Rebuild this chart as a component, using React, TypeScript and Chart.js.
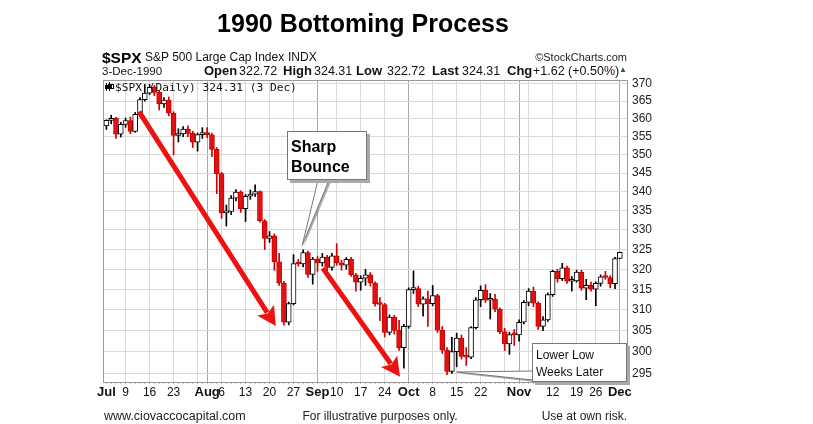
import React, { useEffect, useRef } from "react";
import { Chart, registerables } from "chart.js";
Chart.register(...registerables);

// ---- Data (S&P 500 daily, Jul 2 – Dec 3, 1990) ----
const dates = [
  "1990-07-02","1990-07-03","1990-07-05","1990-07-06","1990-07-09","1990-07-10","1990-07-11","1990-07-12","1990-07-13","1990-07-16","1990-07-17","1990-07-18","1990-07-19","1990-07-20","1990-07-23","1990-07-24","1990-07-25","1990-07-26","1990-07-27","1990-07-30","1990-07-31",
  "1990-08-01","1990-08-02","1990-08-03","1990-08-06","1990-08-07","1990-08-08","1990-08-09","1990-08-10","1990-08-13","1990-08-14","1990-08-15","1990-08-16","1990-08-17","1990-08-20","1990-08-21","1990-08-22","1990-08-23","1990-08-24","1990-08-27","1990-08-28","1990-08-29","1990-08-30","1990-08-31",
  "1990-09-04","1990-09-05","1990-09-06","1990-09-07","1990-09-10","1990-09-11","1990-09-12","1990-09-13","1990-09-14","1990-09-17","1990-09-18","1990-09-19","1990-09-20","1990-09-21","1990-09-24","1990-09-25","1990-09-26","1990-09-27","1990-09-28",
  "1990-10-01","1990-10-02","1990-10-03","1990-10-04","1990-10-05","1990-10-08","1990-10-09","1990-10-10","1990-10-11","1990-10-12","1990-10-15","1990-10-16","1990-10-17","1990-10-18","1990-10-19","1990-10-22","1990-10-23","1990-10-24","1990-10-25","1990-10-26","1990-10-29","1990-10-30","1990-10-31",
  "1990-11-01","1990-11-02","1990-11-05","1990-11-06","1990-11-07","1990-11-08","1990-11-09","1990-11-12","1990-11-13","1990-11-14","1990-11-15","1990-11-16","1990-11-19","1990-11-20","1990-11-21","1990-11-23","1990-11-26","1990-11-27","1990-11-28","1990-11-29","1990-11-30",
  "1990-12-03",
];

const opens = [
  358.02, 359.54, 360.16, 355.68, 358.42, 359.52, 356.49, 361.23, 365.45, 367.31, 368.95, 367.52, 364.22, 365.32, 361.61, 355.31, 355.79, 357.09, 355.91, 353.44, 355.55,
  356.15, 355.52, 351.48, 344.86, 334.43, 334.83, 338.35, 339.94, 335.52, 338.84, 339.39, 340.06, 332.39, 327.83, 328.51, 321.86, 316.55, 307.06, 311.51, 321.44, 321.34, 324.19, 318.71,
  322.56, 321.63, 323.09, 320.46, 323.40, 321.63, 321.04, 322.54, 318.65, 316.83, 317.77, 318.60, 316.60, 311.48, 311.32, 304.59, 308.26, 305.06, 300.97,
  306.05, 314.94, 315.21, 311.40, 312.69, 311.50, 313.48, 305.10, 300.39, 295.46, 300.03, 303.23, 298.92, 298.76, 305.74, 312.48, 314.76, 312.36, 312.60, 310.17, 304.71, 301.88, 304.06,
  304.00, 307.02, 311.85, 314.59, 311.62, 306.01, 307.61, 313.74, 319.48, 317.67, 320.40, 317.02, 317.12, 319.34, 315.31, 316.03, 315.10, 316.51, 318.10, 317.95, 316.42,
  322.72,
];

const highs = [
  359.7, 361.0, 360.4, 359.0, 360.2, 360.5, 361.8, 366.0, 369.8, 369.8, 369.5, 368.0, 366.0, 366.2, 362.0, 357.2, 357.8, 358.0, 356.5, 356.0, 357.5,
  357.5, 356.0, 352.0, 345.2, 336.5, 339.0, 340.6, 340.3, 339.3, 340.5, 341.9, 340.3, 332.7, 329.6, 329.0, 324.0, 317.0, 311.9, 323.7, 322.5, 324.9, 324.6, 323.0,
  323.2, 324.0, 323.5, 324.0, 326.5, 322.3, 323.0, 323.0, 319.0, 318.4, 320.0, 319.2, 316.9, 313.0, 311.6, 308.8, 308.7, 307.5, 306.5,
  315.4, 319.6, 315.8, 313.2, 314.6, 316.0, 313.8, 306.0, 301.0, 303.4, 304.4, 304.0, 301.0, 306.0, 313.0, 315.9, 316.2, 314.0, 313.8, 310.5, 305.6, 304.6, 305.3,
  307.6, 312.3, 315.2, 315.6, 312.0, 308.4, 314.2, 319.8, 320.0, 321.5, 320.8, 318.2, 319.8, 319.8, 317.5, 316.8, 316.9, 318.6, 319.5, 318.4, 323.0,
  324.31,
];

const lows = [
  357.0, 358.6, 354.5, 354.9, 357.6, 355.8, 356.2, 360.8, 365.0, 366.9, 366.6, 362.5, 363.2, 360.8, 350.0, 353.5, 355.0, 355.0, 352.0, 351.0, 354.5,
  354.8, 349.5, 339.5, 333.0, 331.0, 334.0, 337.6, 334.6, 332.2, 338.0, 338.8, 332.0, 325.0, 326.8, 319.8, 316.0, 306.3, 306.4, 311.2, 320.8, 320.6, 318.0, 316.3,
  319.5, 320.8, 319.6, 319.8, 321.0, 319.8, 320.0, 318.2, 314.6, 314.8, 316.0, 315.8, 310.9, 307.4, 303.5, 304.0, 304.2, 300.3, 296.2,
  305.6, 314.0, 310.8, 308.5, 306.0, 311.0, 304.6, 299.6, 294.7, 295.0, 296.5, 298.3, 296.8, 298.4, 305.4, 310.8, 311.8, 307.8, 309.6, 304.3, 300.3, 299.4, 301.5,
  302.5, 306.6, 311.0, 310.8, 305.3, 305.0, 307.2, 313.3, 316.8, 317.2, 316.5, 314.6, 316.8, 314.8, 312.5, 314.6, 311.0, 315.8, 317.5, 315.4, 315.2,
  322.72,
];

const closes = [
  359.54, 360.16, 355.68, 358.42, 359.52, 356.49, 361.23, 365.45, 367.31, 368.95, 367.52, 364.22, 365.32, 361.61, 355.31, 355.79, 357.09, 355.91, 353.44, 355.55, 356.15,
  355.52, 351.48, 344.86, 334.43, 334.83, 338.35, 339.94, 335.52, 338.84, 339.39, 340.06, 332.39, 327.83, 328.51, 321.86, 316.55, 307.06, 311.51, 321.44, 321.34, 324.19, 318.71, 322.56,
  321.63, 323.09, 320.46, 323.40, 321.63, 321.04, 322.54, 318.65, 316.83, 317.77, 318.60, 316.60, 311.48, 311.32, 304.59, 308.26, 305.06, 300.97, 306.05,
  314.94, 315.21, 311.40, 312.69, 311.50, 313.48, 305.10, 300.39, 295.46, 300.03, 303.23, 298.92, 298.76, 305.74, 312.48, 314.76, 312.36, 312.60, 310.17, 304.71, 301.88, 304.06, 304.00,
  307.02, 311.85, 314.59, 311.62, 306.01, 307.61, 313.74, 319.48, 317.67, 320.40, 317.02, 317.12, 319.34, 315.31, 316.03, 315.10, 316.51, 318.10, 317.95, 316.42, 322.69,
  324.31,
];

const tickDates = [
  "1990-07-02","1990-07-09","1990-07-16","1990-07-23","1990-08-01","1990-08-06","1990-08-13","1990-08-20","1990-08-27",
  "1990-09-04","1990-09-10","1990-09-17","1990-09-24","1990-10-01","1990-10-08","1990-10-15","1990-10-22",
  "1990-11-01","1990-11-12","1990-11-19","1990-11-26","1990-12-03",
];
const tickTexts = ["Jul","9","16","23","Aug","6","13","20","27","Sep","10","17","24","Oct","8","15","22","Nov","12","19","26","Dec"];
const monthTexts = ["Jul","Aug","Sep","Oct","Nov","Dec"];
const yTicks = [295, 300, 305, 310, 315, 320, 325, 330, 335, 340, 345, 350, 355, 360, 365, 370];
const yMin = 293.0;
const yMax = 370.8;

// annotation anchors in data coordinates: [category index, price]
const arrow1 = { from: [6.8, 362.0], to: [35.3, 306.1] };
const arrow2 = { from: [45.1, 320.3], to: [61.2, 294.2] };
const bounceTip = [40.8, 326.0];
const lowerLowTip = [73.0, 295.3];

const FONT = "'Liberation Sans', Arial, Helvetica, sans-serif";

function drawArrow(ctx: CanvasRenderingContext2D, x1: number, y1: number, x2: number, y2: number) {
  const dx = x2 - x1, dy = y2 - y1;
  const len = Math.hypot(dx, dy);
  const ux = dx / len, uy = dy / len;
  const headLen = 19, headHalf = 10;
  const bx = x2 - ux * headLen, by = y2 - uy * headLen;
  ctx.save();
  ctx.strokeStyle = "#ee1111";
  ctx.fillStyle = "#ee1111";
  ctx.lineWidth = 5;
  ctx.lineCap = "butt";
  ctx.beginPath();
  ctx.moveTo(x1, y1);
  ctx.lineTo(bx + ux * 3, by + uy * 3);
  ctx.stroke();
  ctx.beginPath();
  ctx.moveTo(x2, y2);
  ctx.lineTo(bx - uy * headHalf, by + ux * headHalf);
  ctx.lineTo(bx + ux * 4, by + uy * 4);
  ctx.lineTo(bx + uy * headHalf, by - ux * headHalf);
  ctx.closePath();
  ctx.fill();
  ctx.restore();
}

function drawPointer(ctx: CanvasRenderingContext2D, tx: number, ty: number, ax: number, ay: number, bx: number, by: number) {
  ctx.save();
  ctx.fillStyle = "rgba(120,120,120,0.6)";
  ctx.beginPath();
  ctx.moveTo(tx + 1.5, ty + 1.5);
  ctx.lineTo(ax + 2, ay + 2);
  ctx.lineTo(bx + 2, by + 2);
  ctx.closePath();
  ctx.fill();
  ctx.fillStyle = "#ffffff";
  ctx.strokeStyle = "#777";
  ctx.lineWidth = 1;
  ctx.beginPath();
  ctx.moveTo(tx, ty);
  ctx.lineTo(ax, ay);
  ctx.lineTo(bx, by);
  ctx.closePath();
  ctx.fill();
  ctx.stroke();
  ctx.restore();
}

const overlayPlugin = {
  id: "overlay",
  afterDatasetsDraw(chart: any) {
    const { ctx, scales } = chart;
    const x = scales.x, y = scales.y;
    const px = (p: number[]) => [x.getPixelForValue(p[0]), y.getPixelForValue(p[1])];
    const [a1x, a1y] = px(arrow1.from);
    const [a1tx, a1ty] = px(arrow1.to);
    drawArrow(ctx, a1x, a1y, a1tx, a1ty);
    const [a2x, a2y] = px(arrow2.from);
    const [a2tx, a2ty] = px(arrow2.to);
    drawArrow(ctx, a2x, a2y, a2tx, a2ty);
    const [bx, by] = px(bounceTip);
    drawPointer(ctx, bx, by, 318, 180, 329, 180);
    const [lx, ly] = px(lowerLowTip);
    drawPointer(ctx, lx, ly, 533, 371, 533, 380);
  },
  afterDraw(chart: any) {
    const { ctx, chartArea } = chart;
    ctx.save();
    ctx.strokeStyle = "#9a9a9a";
    ctx.lineWidth = 1;
    ctx.strokeRect(Math.round(chartArea.left) - 0.5, Math.round(chartArea.top) - 0.5,
      Math.round(chartArea.right - chartArea.left) + 1, Math.round(chartArea.bottom - chartArea.top) + 1);
    // tiny candle icon before the legend text
    ctx.fillStyle = "#000";
    ctx.fillRect(106, 83, 1, 8);
    ctx.fillRect(105, 85, 3, 4);
    ctx.fillRect(109, 82, 1, 9);
    ctx.fillRect(108, 84, 3, 5);
    ctx.strokeStyle = "#000";
    ctx.strokeRect(111.5, 84.5, 2, 4);
    ctx.restore();
  },
};

function T(props: { x: number; y: number; size: number; bold?: boolean; family?: string; color?: string; anchor?: "start" | "middle" | "end"; children: React.ReactNode }) {
  const { x, y, size, bold, family, color, anchor = "start", children } = props;
  const lh = Math.round(size * 1.2);
  const style: React.CSSProperties = {
    position: "absolute",
    top: y - lh / 2,
    lineHeight: lh + "px",
    height: lh,
    fontSize: size,
    fontWeight: bold ? 700 : 400,
    fontFamily: family || FONT,
    color: color || "#111",
    whiteSpace: "nowrap",
  };
  if (anchor === "start") style.left = x;
  else if (anchor === "end") style.right = 813 - x;
  else { style.left = x; style.transform = "translateX(-50%)"; }
  return <div style={style}>{children}</div>;
}

export default function App() {
  const ref = useRef<HTMLCanvasElement>(null);
  useEffect(() => {
    const canvas = ref.current!;
    const labels = [...dates, ""];
    const up = closes.map((c, i) => c >= opens[i]);
    const dt = dates.map((d) => new Date(d + "T00:00:00Z"));
    const weekStart = dt.map((d, i) => i > 0 && d.getUTCDay() < dt[i - 1].getUTCDay());
    const monthStart = dt.map((d, i) => i > 0 && d.getUTCMonth() !== dt[i - 1].getUTCMonth());
    const tickMap = new Map<string, string>();
    tickDates.forEach((d, i) => tickMap.set(d, tickTexts[i]));

    const chart = new Chart(canvas, {
      type: "bar",
      data: {
        labels,
        datasets: [
          {
            label: "body",
            data: opens.map((o, i) => [o, closes[i]]) as any,
            backgroundColor: up.map((u) => (u ? "#ffffff" : "#e31010")),
            borderColor: up.map((u) => (u ? "#000000" : "#c80000")),
            borderWidth: 1,
            borderSkipped: false,
            barThickness: 5,
            minBarLength: 2,
            grouped: false,
            order: 0,
          } as any,
          {
            label: "wick",
            data: lows.map((l, i) => [l, highs[i]]) as any,
            backgroundColor: up.map((u) => (u ? "#000000" : "#cc0000")),
            borderWidth: 0,
            barThickness: 1,
            grouped: false,
            order: 1,
          } as any,
        ],
      },
      options: {
        animation: false,
        responsive: false,
        devicePixelRatio: 1,
        layout: { padding: { left: 104, top: 81, right: 146, bottom: 12 } },
        plugins: {
          legend: { display: false },
          tooltip: { enabled: false },
          title: { display: false },
        },
        scales: {
          x: {
            type: "category",
            offset: true,
            border: { display: false },
            grid: {
              offset: false,
              drawTicks: true,
              tickLength: 2,
              tickColor: (c: any) => (c.index < dates.length ? "#b8b8b8" : "rgba(0,0,0,0)"),
              color: (c: any) => {
                const i = c.index;
                if (i >= dates.length) return "rgba(0,0,0,0)";
                if (monthStart[i]) return "#a8a8a8";
                if (weekStart[i]) return "#dadada";
                return "rgba(0,0,0,0)";
              },
            },
            ticks: {
              autoSkip: false,
              maxRotation: 0,
              minRotation: 0,
              padding: 1,
              color: "#111",
              font: (c: any) => {
                const i = c.index;
                const t = i < dates.length ? tickMap.get(dates[i]) : undefined;
                const isMonth = t !== undefined && monthTexts.includes(t);
                return { family: FONT, size: isMonth ? 13 : 12, weight: isMonth ? "bold" : "normal" } as any;
              },
              callback: (_v: any, i: number) => (i < dates.length ? tickMap.get(dates[i]) ?? "" : ""),
            },
            afterFit: (s: any) => { s.height = 30; },
          },
          y: {
            type: "logarithmic",
            position: "right",
            min: yMin,
            max: yMax,
            border: { display: false },
            grid: { color: "#dadada", drawTicks: false },
            ticks: {
              autoSkip: false,
              padding: 5,
              color: "#222",
              font: { family: FONT, size: 12 },
              callback: (v: any) => String(v),
            },
            afterBuildTicks: (s: any) => { s.ticks = yTicks.map((v) => ({ value: v })); },
            afterFit: (s: any) => { s.width = 40; },
          } as any,
        },
      },
      plugins: [overlayPlugin],
    } as any);
    return () => chart.destroy();
  }, []);

  const boxStyle: React.CSSProperties = {
    position: "absolute",
    boxSizing: "border-box",
    background: "#fff",
    border: "1px solid #777",
    boxShadow: "3px 3px 0 #a9a9a9",
  };

  return (
    <div style={{ position: "absolute", left: 0, top: 0, width: 813, height: 424, background: "#fff", overflow: "hidden" }}>
      <canvas ref={ref} width={813} height={424} style={{ position: "absolute", left: 0, top: 0, width: 813, height: 424 }} />
      <T x={363} y={23} size={25} bold anchor="middle" color="#000">1990 Bottoming Process</T>
      <T x={102} y={57} size={15.5} bold color="#000">$SPX</T>
      <T x={145} y={57} size={12} color="#111">S&amp;P 500 Large Cap Index</T>
      <T x={288} y={57} size={12} color="#111">INDX</T>
      <T x={627} y={57} size={11} anchor="end" color="#222">©StockCharts.com</T>
      <T x={102} y={71} size={11.5}>3-Dec-1990</T>
      <T x={204} y={71} size={13} bold>Open</T>
      <T x={239} y={71} size={12.5}>322.72</T>
      <T x={283} y={71} size={13} bold>High</T>
      <T x={314} y={71} size={12.5}>324.31</T>
      <T x={356} y={71} size={13} bold>Low</T>
      <T x={387} y={71} size={12.5}>322.72</T>
      <T x={432} y={71} size={13} bold>Last</T>
      <T x={462} y={71} size={12.5}>324.31</T>
      <T x={507} y={71} size={13} bold>Chg</T>
      <T x={533} y={71} size={12.5}>+1.62 (+0.50%)</T>
      <T x={619} y={70} size={8} color="#1a6e1a">▲</T>
      <T x={115} y={87} size={11.2} family="'DejaVu Sans Mono', monospace" color="#111">$SPX (Daily) 324.31 (3 Dec)</T>

      <div style={{ ...boxStyle, left: 287, top: 131, width: 80, height: 49 }} />
      <T x={291} y={146} size={16} bold color="#000">Sharp</T>
      <T x={291} y={166} size={16} bold color="#000">Bounce</T>

      <div style={{ ...boxStyle, left: 532, top: 343, width: 95, height: 39 }} />
      <T x={536} y={355} size={12} color="#111">Lower Low</T>
      <T x={536} y={372} size={12} color="#111">Weeks Later</T>

      <T x={104} y={416} size={12.5} color="#222">www.ciovaccocapital.com</T>
      <T x={380} y={416} size={12} anchor="middle" color="#222">For illustrative purposes only.</T>
      <T x={627} y={416} size={12} anchor="end" color="#222">Use at own risk.</T>
    </div>
  );
}
